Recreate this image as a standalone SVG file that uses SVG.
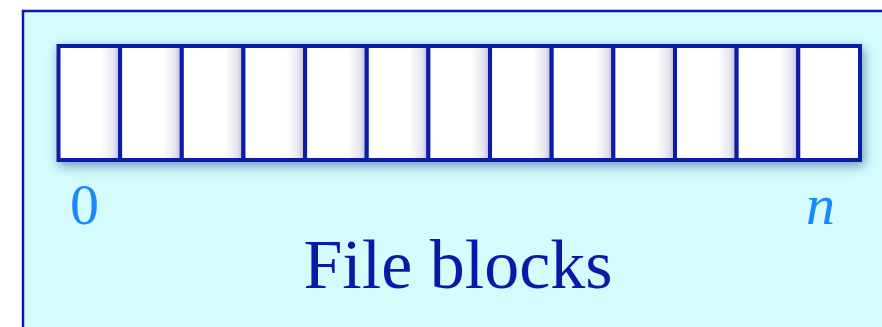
<svg xmlns="http://www.w3.org/2000/svg" width="882" height="327" viewBox="0 0 882 327">
  <style>
    .cell { fill: url(#cellGrad); stroke: #0a1aa8; stroke-width: 4; }
    .idx { font-family: "Liberation Serif", "Times New Roman", serif; font-size: 58px; fill: #1a88ff; }
    .title { font-family: "Liberation Serif", "Times New Roman", serif; font-size: 70px; fill: #0a1aa8; }
  </style>
  <defs>
    <linearGradient id="cellGrad" x1="0" y1="0" x2="1" y2="0">
      <stop offset="0" stop-color="#ffffff"/>
      <stop offset="0.7" stop-color="#ffffff"/>
      <stop offset="0.9" stop-color="#e4e4ef"/>
      <stop offset="1" stop-color="#b4b4d0"/>
    </linearGradient>
    <filter id="shadow" x="-5%" y="-25%" width="110%" height="150%">
      <feGaussianBlur in="SourceAlpha" stdDeviation="6"/>
      <feOffset dx="2" dy="4" result="b"/>
      <feFlood flood-color="#3f6fa6" flood-opacity="0.7"/>
      <feComposite in2="b" operator="in"/>
      <feMerge><feMergeNode/><feMergeNode in="SourceGraphic"/></feMerge>
    </filter>
  </defs>
  <g id="panel">
    <rect x="23" y="11" width="880" height="340" fill="#d4fcfd" stroke="#0a1aa8" stroke-width="2.5"/>
  </g>
  <g id="blocks" filter="url(#shadow)">
    <rect class="cell" x="58.5" y="46" width="61.65" height="114"/>
    <rect class="cell" x="120.15" y="46" width="61.65" height="114"/>
    <rect class="cell" x="181.8" y="46" width="61.65" height="114"/>
    <rect class="cell" x="243.45" y="46" width="61.65" height="114"/>
    <rect class="cell" x="305.1" y="46" width="61.65" height="114"/>
    <rect class="cell" x="366.75" y="46" width="61.65" height="114"/>
    <rect class="cell" x="428.4" y="46" width="61.65" height="114"/>
    <rect class="cell" x="490.05" y="46" width="61.65" height="114"/>
    <rect class="cell" x="551.7" y="46" width="61.65" height="114"/>
    <rect class="cell" x="613.35" y="46" width="61.65" height="114"/>
    <rect class="cell" x="675" y="46" width="61.65" height="114"/>
    <rect class="cell" x="736.65" y="46" width="61.65" height="114"/>
    <rect class="cell" x="798.3" y="46" width="61.7" height="114" style="fill:#ffffff"/>
  </g>
  <g id="labels">
    <text class="idx" x="70" y="224">0</text>
    <text class="idx" x="806" y="224" font-style="italic">n</text>
    <text class="title" x="458" y="288" text-anchor="middle">File blocks</text>
  </g>
</svg>
